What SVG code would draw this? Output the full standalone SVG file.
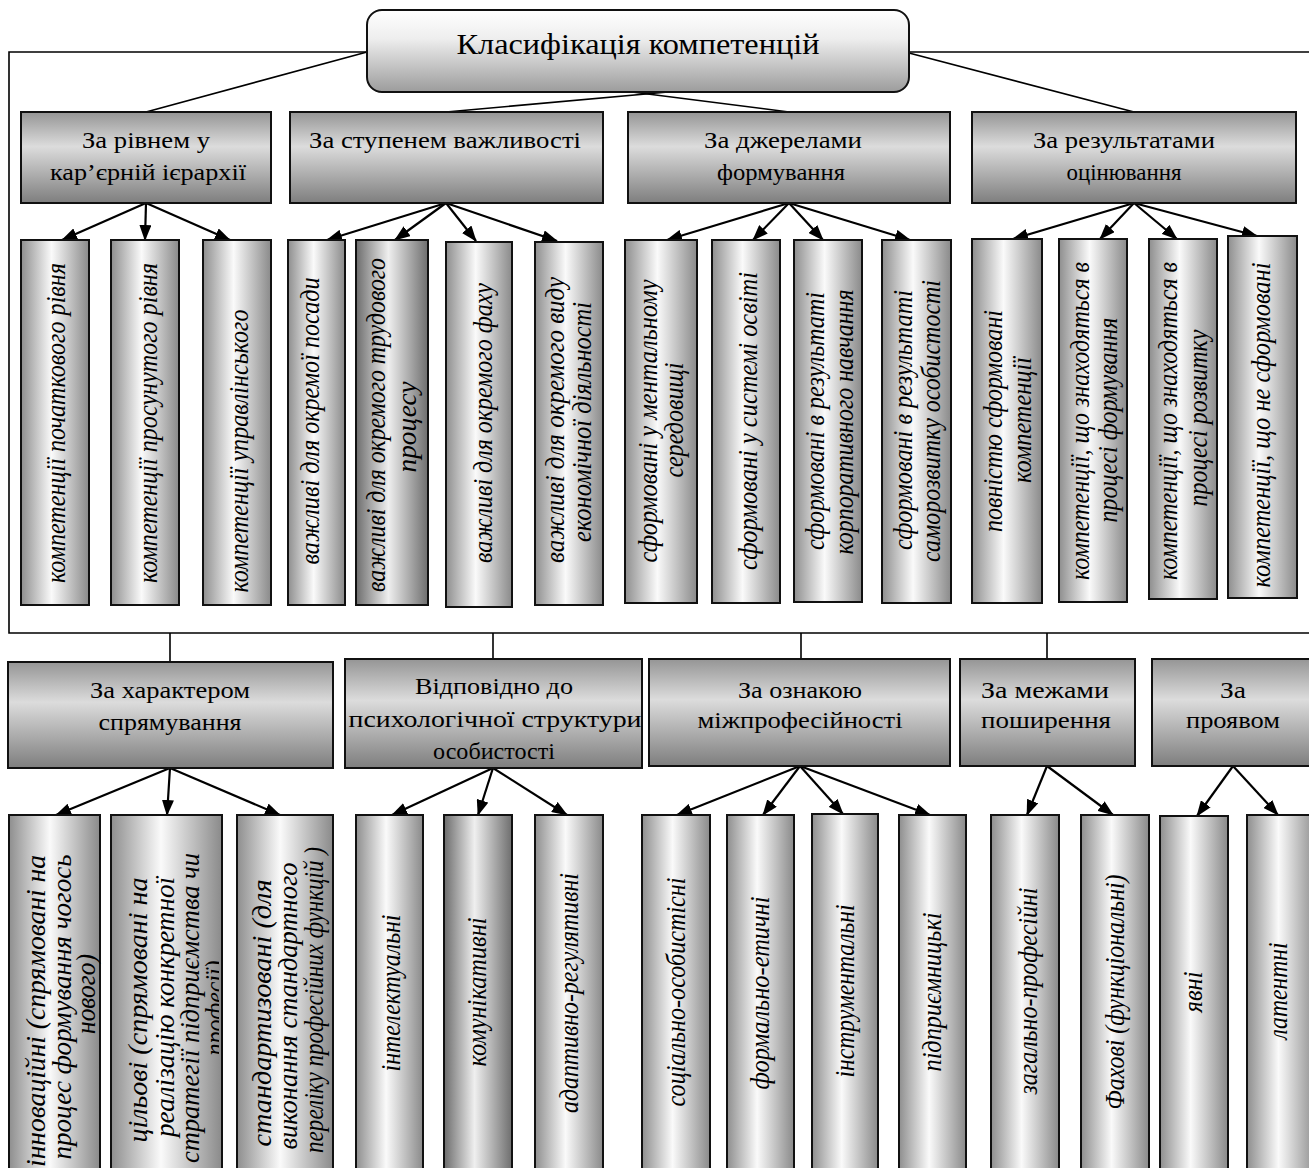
<svg xmlns="http://www.w3.org/2000/svg" width="1309" height="1168" viewBox="0 0 1309 1168">
<defs>
  <linearGradient id="gTitle" x1="0" y1="0" x2="0" y2="1">
    <stop offset="0" stop-color="#ffffff"/>
    <stop offset="0.35" stop-color="#eeeeee"/>
    <stop offset="1" stop-color="#9c9c9c"/>
  </linearGradient>
  <linearGradient id="gCat" x1="0" y1="0" x2="0" y2="1">
    <stop offset="0" stop-color="#959595"/>
    <stop offset="0.38" stop-color="#dcdcdc"/>
    <stop offset="1" stop-color="#7e7e7e"/>
  </linearGradient>
  <linearGradient id="gCol" x1="0" y1="0" x2="1" y2="0">
    <stop offset="0" stop-color="#8e8e8e"/>
    <stop offset="0.45" stop-color="#fafafa"/>
    <stop offset="1" stop-color="#8a8a8a"/>
  </linearGradient>
  <linearGradient id="gColD" x1="0" y1="0" x2="1" y2="0">
    <stop offset="0" stop-color="#6c6c6c"/>
    <stop offset="0.45" stop-color="#efefef"/>
    <stop offset="1" stop-color="#6e6e6e"/>
  </linearGradient>
  <marker id="ah" markerUnits="userSpaceOnUse" markerWidth="16" markerHeight="12" viewBox="0 0 16 12" refX="15" refY="6" orient="auto">
    <path d="M0,0 L16,6 L0,12 z" fill="#000"/>
  </marker>
  <clipPath id="clipW2"><rect x="111" y="815" width="108" height="360"/></clipPath>
</defs>
<style>
  .title { fill: url(#gTitle); stroke: #111; stroke-width: 2; }
  .cat { fill: url(#gCat); stroke: #111; stroke-width: 2; }
  .col { fill: url(#gCol); stroke: #111; stroke-width: 2; }
  .colD { fill: url(#gColD); stroke: #111; stroke-width: 2; }
  text { font-family: "Liberation Serif", "Times New Roman", "DejaVu Serif", serif; fill: #000; text-anchor: middle; }
  .tt { font-size: 30px; }
  .ht { font-size: 24px; }
  .vt { font-size: 28px; font-style: italic; }
  .ln { stroke: #000; stroke-width: 1.6; fill: none; }
  .ar { stroke: #000; stroke-width: 2.2; fill: none; marker-end: url(#ah); }
</style>

<!-- connectors -->
<g id="connectors">
  <polyline class="ln" points="367,52 9,52 9,633 1312,633"/>
  <line class="ln" x1="909" y1="52" x2="1312" y2="52"/>
  <line class="ln" x1="367" y1="52" x2="146" y2="112"/>
  <line class="ln" x1="668" y1="92" x2="446" y2="112"/>
  <line class="ln" x1="632" y1="92" x2="789" y2="112"/>
  <line class="ln" x1="909" y1="53" x2="1134" y2="112"/>
  <line class="ln" x1="170" y1="633" x2="170" y2="662"/>
  <line class="ln" x1="493" y1="633" x2="493" y2="659"/>
  <line class="ln" x1="801" y1="633" x2="801" y2="659"/>
  <line class="ln" x1="1047" y1="633" x2="1047" y2="659"/>
  <!-- first tier arrows -->
  <line class="ar" x1="146" y1="203" x2="62" y2="240"/>
  <line class="ar" x1="146" y1="203" x2="145" y2="240"/>
  <line class="ar" x1="146" y1="203" x2="230" y2="240"/>
  <line class="ar" x1="446" y1="203" x2="327" y2="240"/>
  <line class="ar" x1="446" y1="203" x2="395" y2="240"/>
  <line class="ar" x1="446" y1="203" x2="476" y2="241"/>
  <line class="ar" x1="446" y1="203" x2="557" y2="241"/>
  <line class="ar" x1="789" y1="203" x2="667" y2="240"/>
  <line class="ar" x1="789" y1="203" x2="753" y2="240"/>
  <line class="ar" x1="789" y1="203" x2="823" y2="240"/>
  <line class="ar" x1="789" y1="203" x2="910" y2="240"/>
  <line class="ar" x1="1134" y1="203" x2="1013" y2="239"/>
  <line class="ar" x1="1134" y1="203" x2="1100" y2="239"/>
  <line class="ar" x1="1134" y1="203" x2="1177" y2="239"/>
  <line class="ar" x1="1134" y1="203" x2="1257" y2="236"/>
  <!-- second tier arrows -->
  <line class="ar" x1="170" y1="768" x2="56" y2="815"/>
  <line class="ar" x1="170" y1="768" x2="167" y2="815"/>
  <line class="ar" x1="170" y1="768" x2="280" y2="815"/>
  <line class="ar" x1="493" y1="768" x2="392" y2="815"/>
  <line class="ar" x1="493" y1="768" x2="478" y2="815"/>
  <line class="ar" x1="493" y1="768" x2="567" y2="815"/>
  <line class="ar" x1="800" y1="766" x2="677" y2="815"/>
  <line class="ar" x1="800" y1="766" x2="763" y2="815"/>
  <line class="ar" x1="800" y1="766" x2="843" y2="814"/>
  <line class="ar" x1="800" y1="766" x2="930" y2="815"/>
  <line class="ar" x1="1047" y1="766" x2="1027" y2="815"/>
  <line class="ar" x1="1047" y1="766" x2="1113" y2="815"/>
  <line class="ar" x1="1233" y1="766" x2="1197" y2="816"/>
  <line class="ar" x1="1233" y1="766" x2="1278" y2="815"/>
</g>

<!-- root -->
<g id="root">
  <rect class="title" x="367" y="10" width="542" height="82" rx="15"/>
  <text class="tt" x="638" y="54" textLength="363" lengthAdjust="spacingAndGlyphs">Класифікація компетенцій</text>
</g>

<!-- first tier categories -->
<g id="cat-career">
  <rect class="cat" x="21" y="112" width="250" height="91"/>
  <text class="ht" x="146" y="148" textLength="128" lengthAdjust="spacingAndGlyphs">За рівнем у</text>
  <text class="ht" x="148" y="180" textLength="196" lengthAdjust="spacingAndGlyphs">кар’єрній ієрархії</text>
</g>
<g id="cat-importance">
  <rect class="cat" x="290" y="112" width="313" height="91"/>
  <text class="ht" x="445" y="148" textLength="272" lengthAdjust="spacingAndGlyphs">За ступенем важливості</text>
</g>
<g id="cat-sources">
  <rect class="cat" x="628" y="112" width="322" height="91"/>
  <text class="ht" x="783" y="148" textLength="158" lengthAdjust="spacingAndGlyphs">За джерелами</text>
  <text class="ht" x="781" y="180" textLength="128" lengthAdjust="spacingAndGlyphs">формування</text>
</g>
<g id="cat-assessment">
  <rect class="cat" x="972" y="112" width="324" height="91"/>
  <text class="ht" x="1124" y="148" textLength="182" lengthAdjust="spacingAndGlyphs">За результатами</text>
  <text class="ht" x="1124" y="180" textLength="115" lengthAdjust="spacingAndGlyphs">оцінювання</text>
</g>

<!-- first tier items -->
<g id="v1">
  <rect class="col" x="21" y="240" width="68" height="365"/>
  <text class="vt" transform="translate(65,423) rotate(-90)" textLength="320" lengthAdjust="spacingAndGlyphs">компетенції початкового рівня</text>
</g>
<g id="v2">
  <rect class="col" x="111" y="240" width="68" height="365"/>
  <text class="vt" transform="translate(157,423) rotate(-90)" textLength="320" lengthAdjust="spacingAndGlyphs">компетенції просунутого рівня</text>
</g>
<g id="v3">
  <rect class="col" x="203" y="240" width="68" height="365"/>
  <text class="vt" transform="translate(248,451) rotate(-90)" textLength="283" lengthAdjust="spacingAndGlyphs">компетенції управлінського</text>
</g>
<g id="v4">
  <rect class="col" x="288" y="240" width="57" height="365"/>
  <text class="vt" transform="translate(319,421) rotate(-90)" textLength="287" lengthAdjust="spacingAndGlyphs">важливі для окремої посади</text>
</g>
<g id="v5">
  <rect class="colD" x="356" y="240" width="72" height="365"/>
  <text class="vt" transform="translate(385,425) rotate(-90)" textLength="334" lengthAdjust="spacingAndGlyphs">важливі для окремого трудового</text>
  <text class="vt" transform="translate(416,427) rotate(-90)" textLength="91" lengthAdjust="spacingAndGlyphs">процесу</text>
</g>
<g id="v6">
  <rect class="col" x="446" y="242" width="66" height="365"/>
  <text class="vt" transform="translate(492,423) rotate(-90)" textLength="280" lengthAdjust="spacingAndGlyphs">важливі для окремого фаху</text>
</g>
<g id="v7">
  <rect class="col" x="535" y="242" width="68" height="363"/>
  <text class="vt" transform="translate(564,420) rotate(-90)" textLength="286" lengthAdjust="spacingAndGlyphs">важливі для окремого виду</text>
  <text class="vt" transform="translate(591,422) rotate(-90)" textLength="240" lengthAdjust="spacingAndGlyphs">економічної діяльності</text>
</g>
<g id="v8">
  <rect class="col" x="625" y="240" width="72" height="363"/>
  <text class="vt" transform="translate(657,421) rotate(-90)" textLength="283" lengthAdjust="spacingAndGlyphs">сформовані у ментальному</text>
  <text class="vt" transform="translate(683,420) rotate(-90)" textLength="115" lengthAdjust="spacingAndGlyphs">середовищі</text>
</g>
<g id="v9">
  <rect class="col" x="712" y="240" width="68" height="363"/>
  <text class="vt" transform="translate(757,421) rotate(-90)" textLength="298" lengthAdjust="spacingAndGlyphs">сформовані у системі освіті</text>
</g>
<g id="v10">
  <rect class="col" x="794" y="240" width="68" height="362"/>
  <text class="vt" transform="translate(824,421) rotate(-90)" textLength="258" lengthAdjust="spacingAndGlyphs">сформовані в результаті</text>
  <text class="vt" transform="translate(853,422) rotate(-90)" textLength="265" lengthAdjust="spacingAndGlyphs">корпоративного навчання</text>
</g>
<g id="v11">
  <rect class="col" x="882" y="240" width="69" height="363"/>
  <text class="vt" transform="translate(912,420) rotate(-90)" textLength="260" lengthAdjust="spacingAndGlyphs">сформовані в результаті</text>
  <text class="vt" transform="translate(940,421) rotate(-90)" textLength="282" lengthAdjust="spacingAndGlyphs">саморозвитку особистості</text>
</g>
<g id="v12">
  <rect class="col" x="972" y="239" width="70" height="364"/>
  <text class="vt" transform="translate(1002,421) rotate(-90)" textLength="222" lengthAdjust="spacingAndGlyphs">повністю сформовані</text>
  <text class="vt" transform="translate(1031,420) rotate(-90)" textLength="126" lengthAdjust="spacingAndGlyphs">компетенції</text>
</g>
<g id="v13">
  <rect class="col" x="1059" y="239" width="68" height="363"/>
  <text class="vt" transform="translate(1089,421) rotate(-90)" textLength="318" lengthAdjust="spacingAndGlyphs">компетенції, що знаходяться в</text>
  <text class="vt" transform="translate(1117,420) rotate(-90)" textLength="205" lengthAdjust="spacingAndGlyphs">процесі формування</text>
</g>
<g id="v14">
  <rect class="col" x="1149" y="239" width="68" height="360"/>
  <text class="vt" transform="translate(1177,421) rotate(-90)" textLength="318" lengthAdjust="spacingAndGlyphs">компетенції, що знаходяться в</text>
  <text class="vt" transform="translate(1207,418) rotate(-90)" textLength="177" lengthAdjust="spacingAndGlyphs">процесі розвитку</text>
</g>
<g id="v15">
  <rect class="col" x="1228" y="236" width="69" height="362"/>
  <text class="vt" transform="translate(1270,425) rotate(-90)" textLength="325" lengthAdjust="spacingAndGlyphs">компетенції, що не сформовані</text>
</g>

<!-- second tier categories -->
<g id="cat-direction">
  <rect class="cat" x="8" y="662" width="325" height="106"/>
  <text class="ht" x="170" y="698" textLength="160" lengthAdjust="spacingAndGlyphs">За характером</text>
  <text class="ht" x="170" y="730" textLength="143" lengthAdjust="spacingAndGlyphs">спрямування</text>
</g>
<g id="cat-psychology">
  <rect class="cat" x="345" y="659" width="297" height="109"/>
  <text class="ht" x="494" y="694" textLength="158" lengthAdjust="spacingAndGlyphs">Відповідно до</text>
  <text class="ht" x="495" y="727" textLength="293" lengthAdjust="spacingAndGlyphs">психологічної структури</text>
  <text class="ht" x="494" y="759" textLength="122" lengthAdjust="spacingAndGlyphs">особистості</text>
</g>
<g id="cat-interprof">
  <rect class="cat" x="649" y="659" width="301" height="107"/>
  <text class="ht" x="800" y="698" textLength="124" lengthAdjust="spacingAndGlyphs">За ознакою</text>
  <text class="ht" x="800" y="728" textLength="205" lengthAdjust="spacingAndGlyphs">міжпрофесійності</text>
</g>
<g id="cat-scope">
  <rect class="cat" x="960" y="659" width="175" height="107"/>
  <text class="ht" x="1045" y="698" textLength="128" lengthAdjust="spacingAndGlyphs">За межами</text>
  <text class="ht" x="1046" y="728" textLength="130" lengthAdjust="spacingAndGlyphs">поширення</text>
</g>
<g id="cat-manifest">
  <rect class="cat" x="1152" y="659" width="162" height="107"/>
  <text class="ht" x="1233" y="698" textLength="26" lengthAdjust="spacingAndGlyphs">За</text>
  <text class="ht" x="1233" y="728" textLength="94" lengthAdjust="spacingAndGlyphs">проявом</text>
</g>

<!-- second tier items -->
<g id="w1">
  <rect class="col" x="9" y="815" width="91" height="360"/>
  <text class="vt" transform="translate(45,1011) rotate(-90)" textLength="312" lengthAdjust="spacingAndGlyphs">інноваційні (спрямовані на</text>
  <text class="vt" transform="translate(71,1007) rotate(-90)" textLength="305" lengthAdjust="spacingAndGlyphs">процес формування чогось</text>
  <text class="vt" transform="translate(95,994) rotate(-90)" textLength="80" lengthAdjust="spacingAndGlyphs">нового)</text>
</g>
<g id="w2">
  <rect class="col" x="111" y="815" width="111" height="360"/>
  <g clip-path="url(#clipW2)">
    <text class="vt" transform="translate(147,1010) rotate(-90)" textLength="265" lengthAdjust="spacingAndGlyphs">цільові (спрямовані на</text>
    <text class="vt" transform="translate(174,1007) rotate(-90)" textLength="260" lengthAdjust="spacingAndGlyphs">реалізацію конкретної</text>
    <text class="vt" transform="translate(199,1008) rotate(-90)" textLength="310" lengthAdjust="spacingAndGlyphs">стратегії підприємства чи</text>
    <text class="vt" transform="translate(224,1008) rotate(-90)" textLength="95" lengthAdjust="spacingAndGlyphs">професії)</text>
  </g>
</g>
<g id="w3">
  <rect class="col" x="237" y="815" width="96" height="360"/>
  <text class="vt" transform="translate(271,1013) rotate(-90)" textLength="267" lengthAdjust="spacingAndGlyphs">стандартизовані (для</text>
  <text class="vt" transform="translate(297,1006) rotate(-90)" textLength="287" lengthAdjust="spacingAndGlyphs">виконання стандартного</text>
  <text class="vt" transform="translate(323,1000) rotate(-90)" textLength="306" lengthAdjust="spacingAndGlyphs">переліку професійних функцій )</text>
</g>
<g id="w4">
  <rect class="col" x="356" y="815" width="67" height="360"/>
  <text class="vt" transform="translate(400,993) rotate(-90)" textLength="157" lengthAdjust="spacingAndGlyphs">інтелектуальні</text>
</g>
<g id="w5">
  <rect class="colD" x="444" y="815" width="68" height="360"/>
  <text class="vt" transform="translate(486,992) rotate(-90)" textLength="149" lengthAdjust="spacingAndGlyphs">комунікативні</text>
</g>
<g id="w6">
  <rect class="col" x="535" y="815" width="68" height="360"/>
  <text class="vt" transform="translate(578,993) rotate(-90)" textLength="240" lengthAdjust="spacingAndGlyphs">адаптивно-регулятивні</text>
</g>
<g id="w7">
  <rect class="col" x="642" y="815" width="68" height="360"/>
  <text class="vt" transform="translate(685,992) rotate(-90)" textLength="229" lengthAdjust="spacingAndGlyphs">соціально-особистісні</text>
</g>
<g id="w8">
  <rect class="col" x="727" y="815" width="67" height="360"/>
  <text class="vt" transform="translate(769,993) rotate(-90)" textLength="193" lengthAdjust="spacingAndGlyphs">формально-етичні</text>
</g>
<g id="w9">
  <rect class="col" x="812" y="814" width="66" height="361"/>
  <text class="vt" transform="translate(854,991) rotate(-90)" textLength="173" lengthAdjust="spacingAndGlyphs">інструментальні</text>
</g>
<g id="w10">
  <rect class="col" x="899" y="815" width="67" height="360"/>
  <text class="vt" transform="translate(941,992) rotate(-90)" textLength="159" lengthAdjust="spacingAndGlyphs">підприємницькі</text>
</g>
<g id="w11">
  <rect class="col" x="991" y="815" width="68" height="360"/>
  <text class="vt" transform="translate(1037,991) rotate(-90)" textLength="207" lengthAdjust="spacingAndGlyphs">загально-професійні</text>
</g>
<g id="w12">
  <rect class="col" x="1081" y="815" width="68" height="360"/>
  <text class="vt" transform="translate(1124,992) rotate(-90)" textLength="235" lengthAdjust="spacingAndGlyphs">Фахові (функціональні)</text>
</g>
<g id="w13">
  <rect class="col" x="1160" y="816" width="68" height="360"/>
  <text class="vt" transform="translate(1202,992) rotate(-90)" textLength="41" lengthAdjust="spacingAndGlyphs">явні</text>
</g>
<g id="w14">
  <rect class="col" x="1247" y="815" width="70" height="360"/>
  <text class="vt" transform="translate(1287,991) rotate(-90)" textLength="97" lengthAdjust="spacingAndGlyphs">латентні</text>
</g>
</svg>
